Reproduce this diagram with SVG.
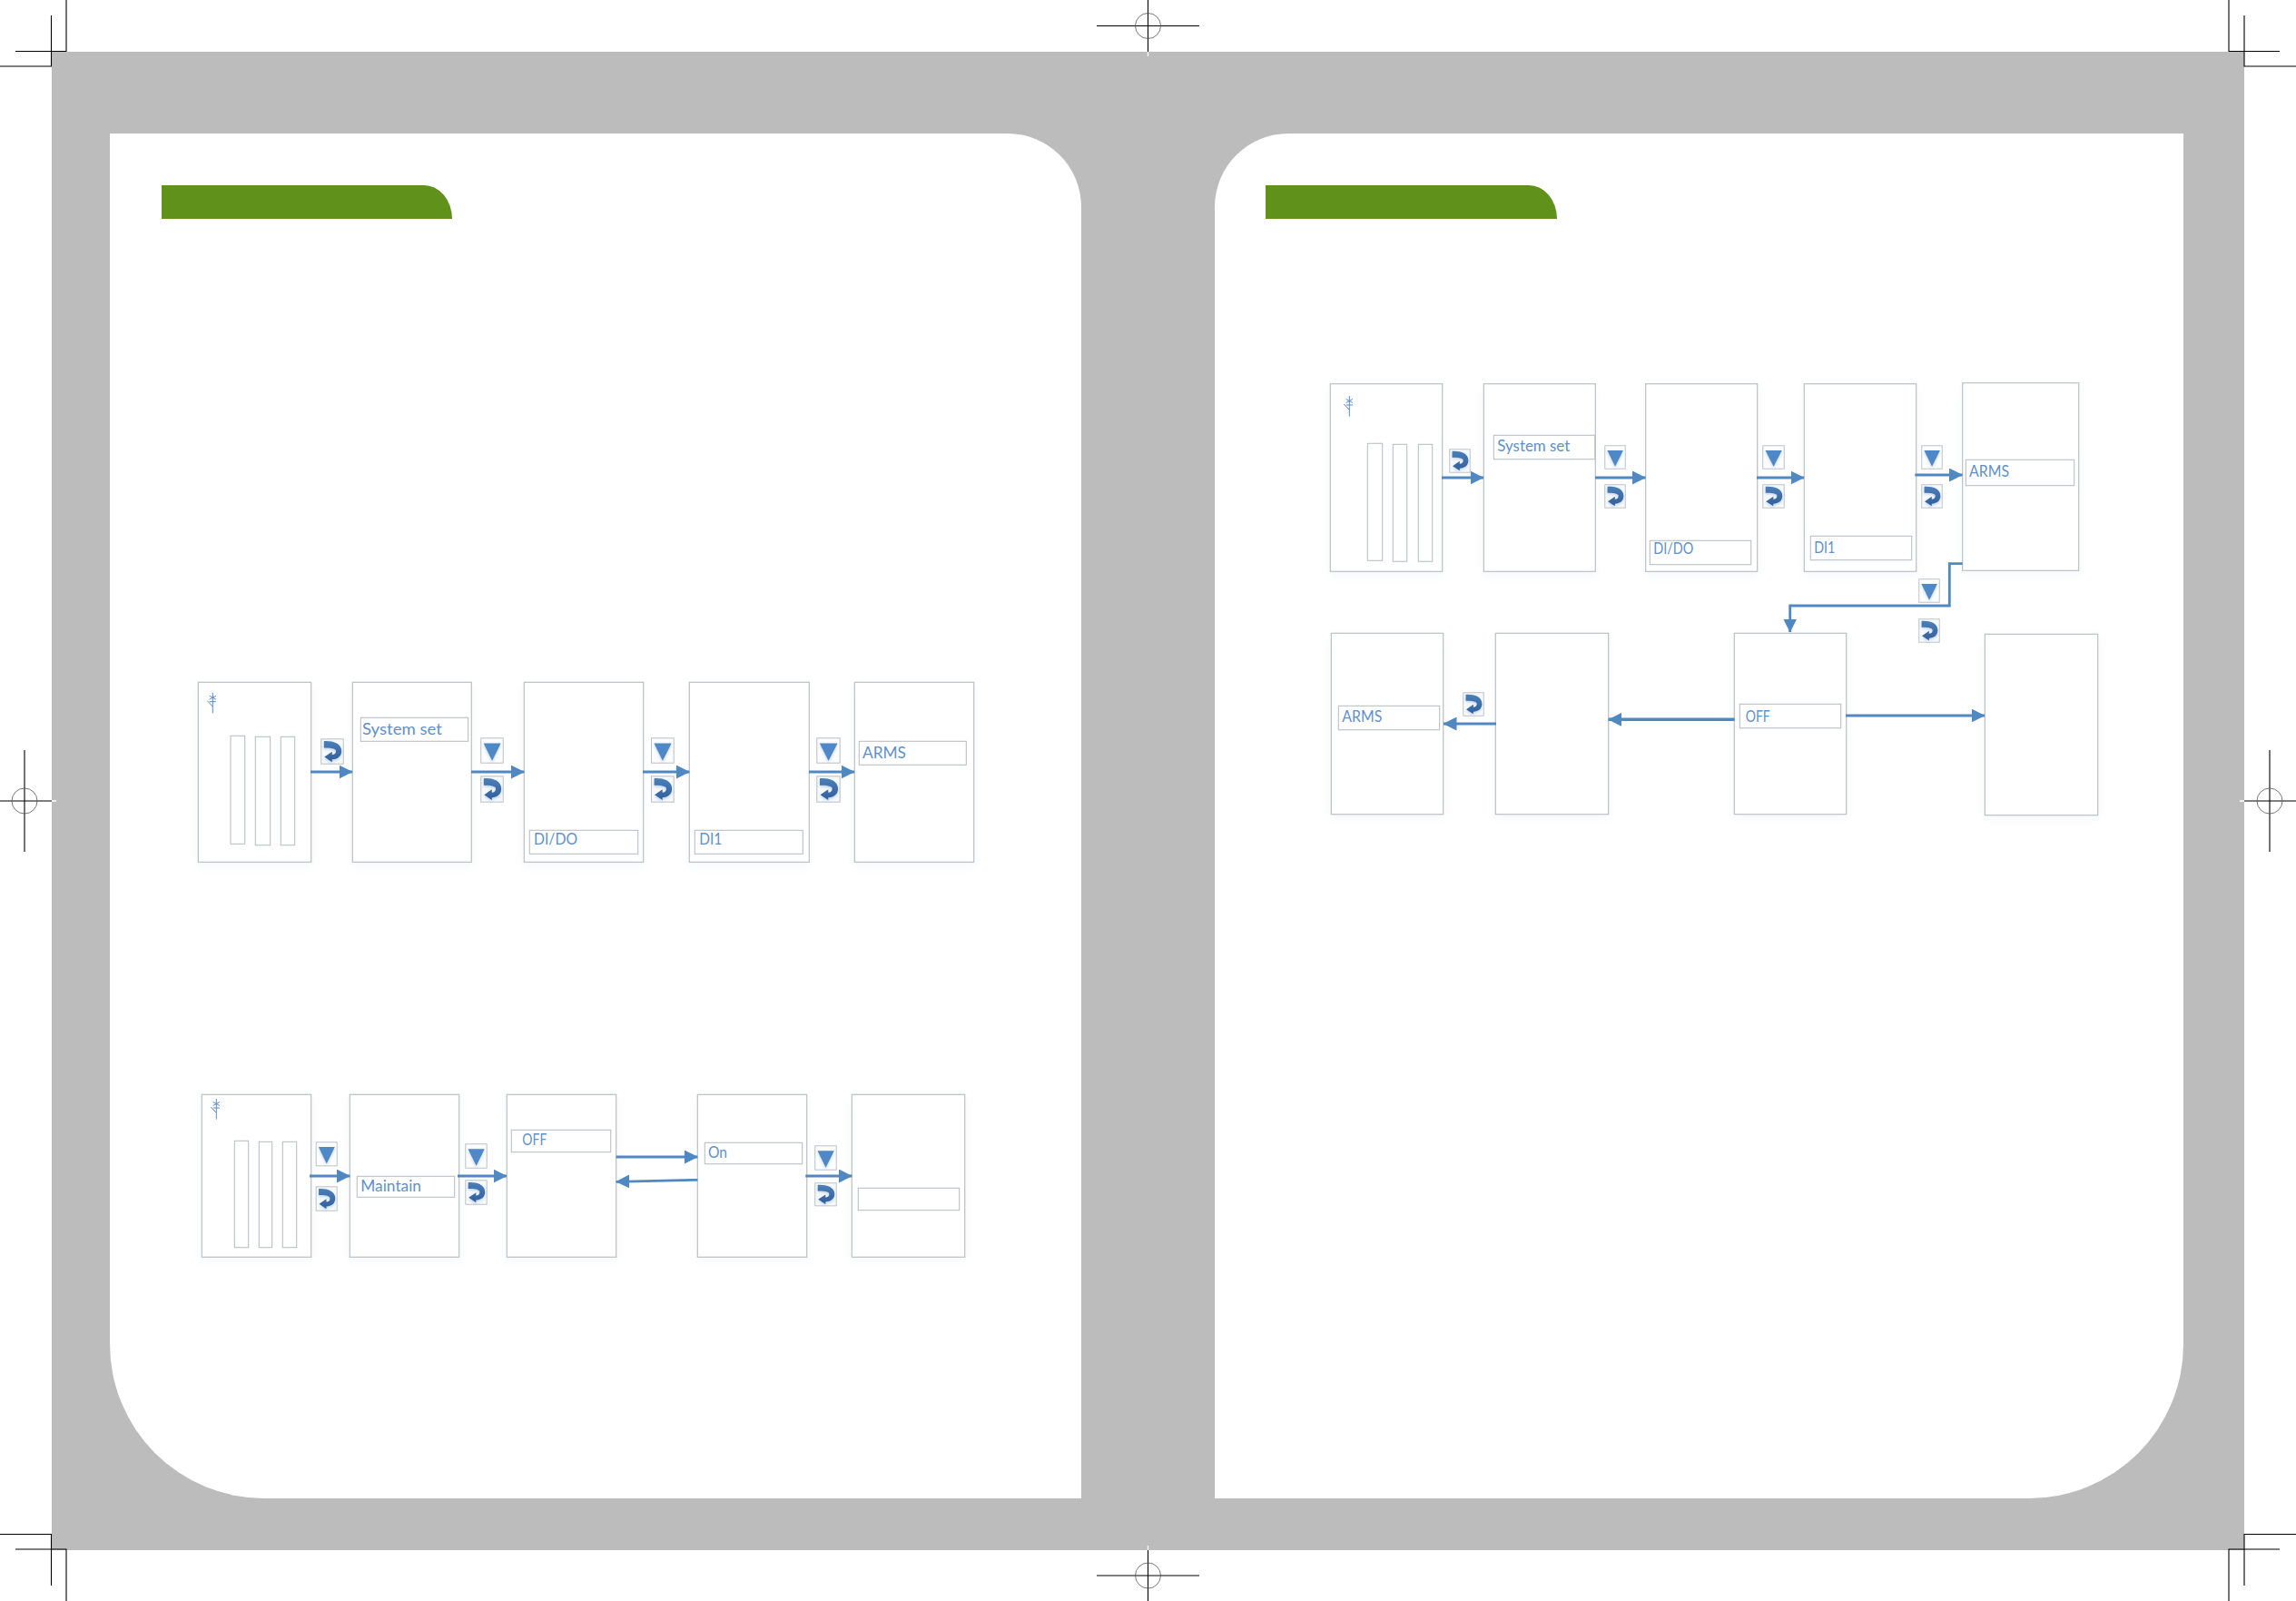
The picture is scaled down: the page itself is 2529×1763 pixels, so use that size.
<svg xmlns="http://www.w3.org/2000/svg" xmlns:xlink="http://www.w3.org/1999/xlink" width="2529" height="1763" viewBox="0 0 2529 1763">
<style>
.box{fill:#fff;stroke:#bcc0c4;stroke-width:1.2;filter:url(#soft)}
.field{fill:#fff;stroke:#bcc0c4;stroke-width:1.1}
.slot{fill:#fff;stroke:#bcc0c4;stroke-width:1.1}
.crop{stroke:#000;stroke-width:1.1;fill:none}
.cropw{stroke:#fff;stroke-width:1.3;fill:none}
.conn{stroke:#5088c2;stroke-width:2.8;fill:none;marker-end:url(#head)}
.sw{stroke:#5a8ac6;stroke-width:1;fill:none}
text{font-family:"Lato","Liberation Sans",sans-serif;fill:#5f91c9;font-weight:400}
.t20{font-size:18px}
.t18{font-size:16.6px}
</style>
<defs>
<filter id="soft" x="-10%" y="-10%" width="120%" height="120%"><feDropShadow dx="0" dy="4" stdDeviation="5" flood-color="#b4c2d2" flood-opacity="0.12"/></filter>
<filter id="glow" x="-30%" y="-30%" width="160%" height="170%"><feDropShadow dx="0" dy="1.5" stdDeviation="1.5" flood-color="#5b8fcb" flood-opacity="0.4"/></filter>
<linearGradient id="ret" x1="0" y1="0" x2="0" y2="1"><stop offset="0" stop-color="#4a7fb9"/><stop offset="1" stop-color="#325f9b"/></linearGradient>
<marker id="head" markerUnits="userSpaceOnUse" viewBox="0 0 15 15" markerWidth="15" markerHeight="15" refX="14.5" refY="7.5" orient="auto"><path d="M0 0L15 7.5L0 15Z" fill="#5088c2"/></marker>
<symbol id="down" viewBox="0 0 25 28" preserveAspectRatio="none" overflow="visible">
<rect x="0.5" y="0.5" width="24" height="27" fill="#fcfdfe" stroke="#bcc0c4" stroke-width="1"/>
<path d="M3.3 6H22L12.6 25Z" fill="#5088c6" filter="url(#glow)"/>
</symbol>
<symbol id="ret-icon" viewBox="0 0 25 28" preserveAspectRatio="none" overflow="visible">
<rect x="0.5" y="0.5" width="24" height="27" fill="#f7fafd" stroke="#bcc0c4" stroke-width="1"/>
<path d="M3.5 2.7C13 2.2 22.5 5 22.5 13.5C22.5 19.5 18 22.5 12.3 22.7V25.5L4 20L12.3 14.3V17.5C15 17.5 16.5 16 16.5 13.5C16.5 10.5 10 10 3.5 10Z" fill="url(#ret)" filter="url(#glow)"/>
</symbol>
<g id="switch"><path class="sw" d="M0 0V22.6M-3.6 3.5L3.6 7.5M3.6 3.5L-3.6 7.5M-3.6 10H3.6M-6 9L0 15.3"/></g>
</defs>

<g id="page">
<rect x="57" y="57" width="2415" height="1650" fill="#bcbcbc"/>
<path id="panel-left" d="M121 147H1110A81 81 0 0 1 1191 228V1650H291A170 170 0 0 1 121 1480Z" fill="#fff"/>
<path id="panel-right" d="M1419 147H2405V1480A170 170 0 0 1 2235 1650H1338V228A81 81 0 0 1 1419 147Z" fill="#fff"/>
<path id="banner-left" d="M178 204H467A31 37 0 0 1 498 241H178Z" fill="#5f911b"/>
<path id="banner-right" d="M1394 204H1684A31 37 0 0 1 1715 241H1394Z" fill="#5f911b"/>
</g>

<g id="crop-marks">
<path class="crop" d="M73 0V56.5H17M56.5 17V73H0M0 1689.5H56.5V1746M17 1706H73V1763M2455 0V56.5H2511M2472 17V73H2529M2455 1763V1706H2511M2472 1746V1689.5H2529"/>
<path class="crop" d="M1208 28.5H1321M1264.5 0V57M1208 1735H1321M1264.5 1763V1707M0 882H57M27 826V938M2472 882H2529M2500 826V938"/>
<path class="cropw" d="M1264.5 57V62M1264.5 1707V1702M57 882H62M2472 882H2467"/>
<circle class="crop" cx="1264.5" cy="28.5" r="14" style="stroke:#555;stroke-width:.8"/>
<circle class="crop" cx="1264.5" cy="1735" r="14" style="stroke:#555;stroke-width:.8"/>
<circle class="crop" cx="27" cy="882" r="14" style="stroke:#555;stroke-width:.8"/>
<circle class="crop" cx="2500" cy="882" r="14" style="stroke:#555;stroke-width:.8"/>
</g>

<g id="d1">
<g id="d1-n1"><rect class="box" x="218.3" y="751.3" width="124.4" height="198"/><use href="#switch" x="234.3" y="762.7"/><rect class="slot" x="254" y="810.3" width="15.7" height="119"/><rect class="slot" x="281.3" y="811.3" width="16.4" height="119.4"/><rect class="slot" x="309.3" y="811.3" width="15.4" height="119.4"/></g>
<g id="d1-n2"><rect class="box" x="388.3" y="751.3" width="131" height="198"/><rect class="field" x="397.3" y="790.3" width="118.4" height="26"/><text class="t20" x="399" y="808.7" textLength="88" lengthAdjust="spacingAndGlyphs">System set</text></g>
<g id="d1-n3"><rect class="box" x="577.3" y="751.3" width="131.4" height="198"/><rect class="field" x="583.3" y="914.3" width="119.4" height="26"/><text class="t20" x="588" y="930" textLength="48" lengthAdjust="spacingAndGlyphs">DI/DO</text></g>
<g id="d1-n4"><rect class="box" x="759.3" y="751.3" width="132" height="198"/><rect class="field" x="765.3" y="914.3" width="119" height="26"/><text class="t20" x="770.3" y="930" textLength="25" lengthAdjust="spacingAndGlyphs">DI1</text></g>
<g id="d1-n5"><rect class="box" x="941.3" y="751.3" width="131.4" height="198"/><rect class="field" x="946.3" y="816.3" width="118" height="26"/><text class="t20" x="950" y="835" textLength="48" lengthAdjust="spacingAndGlyphs">ARMS</text></g>
</g>

<g id="d2">
<g id="d2-n1"><rect class="box" x="222.3" y="1205.3" width="120.4" height="179"/><use href="#switch" x="238.3" y="1210"/><rect class="slot" x="258.3" y="1256.3" width="15.4" height="117.4"/><rect class="slot" x="285.3" y="1257.3" width="14.4" height="116.4"/><rect class="slot" x="311.3" y="1257.3" width="15.4" height="116.4"/></g>
<g id="d2-n2"><rect class="box" x="385.3" y="1205.3" width="120.4" height="179"/><rect class="field" x="393.3" y="1295.3" width="107.4" height="23"/><text class="t20" x="397.3" y="1312.3" textLength="66.7" lengthAdjust="spacingAndGlyphs">Maintain</text></g>
<g id="d2-n3"><rect class="box" x="558.3" y="1205.3" width="120.4" height="179"/><rect class="field" x="563.3" y="1244.3" width="109.4" height="24.4"/><text class="t20" x="575.3" y="1261" textLength="27" lengthAdjust="spacingAndGlyphs">OFF</text></g>
<g id="d2-n4"><rect class="box" x="768.3" y="1205.3" width="120.4" height="179"/><rect class="field" x="776.3" y="1258.3" width="107.4" height="23.4"/><text class="t20" x="780" y="1275.3" textLength="21" lengthAdjust="spacingAndGlyphs">On</text></g>
<g id="d2-n5"><rect class="box" x="938.3" y="1205.3" width="124.4" height="179"/><rect class="field" x="945.3" y="1308.3" width="111.4" height="24.4"/></g>
</g>

<g id="d3">
<g id="d3-n1"><rect class="box" x="1465.3" y="422.7" width="123.4" height="206.6"/><use href="#switch" x="1486.3" y="436"/><rect class="slot" x="1506.3" y="488.3" width="16.4" height="129"/><rect class="slot" x="1534.3" y="489.3" width="15.4" height="129"/><rect class="slot" x="1562.3" y="489.3" width="15.4" height="129"/></g>
<g id="d3-n2"><rect class="box" x="1634.3" y="422.7" width="123" height="206.6"/><rect class="field" x="1645.3" y="479.3" width="111.4" height="26.4"/><text class="t18" x="1649.3" y="497.3" textLength="80" lengthAdjust="spacingAndGlyphs">System set</text></g>
<g id="d3-n3"><rect class="box" x="1812.7" y="422.7" width="123" height="206.6"/><rect class="field" x="1817.3" y="595.3" width="111.4" height="26.4"/><text class="t18" x="1821.3" y="610" textLength="44" lengthAdjust="spacingAndGlyphs">DI/DO</text></g>
<g id="d3-n4"><rect class="box" x="1987.3" y="422.7" width="123.4" height="206.6"/><rect class="field" x="1994.3" y="590.3" width="111.4" height="26.4"/><text class="t18" x="1998.3" y="609" textLength="23" lengthAdjust="spacingAndGlyphs">DI1</text></g>
<g id="d3-n5"><rect class="box" x="2161.7" y="421.7" width="128" height="206.6"/><rect class="field" x="2165.3" y="506.3" width="119.4" height="28.4"/><text class="t18" x="2169" y="525" textLength="44" lengthAdjust="spacingAndGlyphs">ARMS</text></g>
<g id="d3-n6"><rect class="box" x="1466.3" y="697.3" width="123.4" height="199.4"/><rect class="field" x="1474.3" y="777.3" width="111.4" height="26.4"/><text class="t18" x="1478.3" y="795" textLength="44" lengthAdjust="spacingAndGlyphs">ARMS</text></g>
<g id="d3-n7"><rect class="box" x="1647.3" y="697.3" width="124.4" height="199.4"/></g>
<g id="d3-n8"><rect class="box" x="1910.3" y="697.3" width="123.4" height="199.4"/><rect class="field" x="1916.3" y="775.3" width="111.4" height="26.4"/><text class="t18" x="1922.7" y="795" textLength="27" lengthAdjust="spacingAndGlyphs">OFF</text></g>
<g id="d3-n9"><rect class="box" x="2186.3" y="698.3" width="124.4" height="199.4"/></g>
</g>

<g id="connectors">
<path class="conn" d="M342 850H388"/>
<path class="conn" d="M519 850H577.3"/>
<path class="conn" d="M708 850H759.3"/>
<path class="conn" d="M891 850H941"/>
<path class="conn" d="M341 1295H385.3"/>
<path class="conn" d="M504 1295H558"/>
<path class="conn" d="M678.7 1274H768.3"/>
<path class="conn" d="M768.3 1299.3L678.7 1301.3"/>
<path class="conn" d="M887.3 1295H938.3"/>
<path class="conn" d="M1588 526H1634"/>
<path class="conn" d="M1757 526H1812.5"/>
<path class="conn" d="M1935 526H1987"/>
<path class="conn" d="M2109.3 523H2161.5"/>
<path class="conn" d="M2161.7 620.7H2147.3V667H1971.7V696"/>
<path class="conn" d="M1648 797H1590"/>
<path class="conn" d="M1910.7 792.3H1771.7" style="stroke-width:3.6"/>
<path class="conn" d="M2033 788H2186"/>
</g>

<g id="keys">
<use href="#ret-icon" x="353.3" y="813.3" width="25.4" height="28.4"/>
<use href="#down" x="529.3" y="812.3" width="25.4" height="28.4"/>
<use href="#ret-icon" x="529.3" y="854.3" width="25.4" height="29.4"/>
<use href="#down" x="717" y="812.3" width="25.7" height="28.4"/>
<use href="#ret-icon" x="717" y="854.3" width="25.7" height="29.4"/>
<use href="#down" x="899.3" y="812.3" width="26.4" height="28.4"/>
<use href="#ret-icon" x="899.3" y="854.3" width="26.4" height="29.4"/>

<use href="#down" x="347.7" y="1257.3" width="24" height="27"/>
<use href="#ret-icon" x="347.7" y="1306.3" width="24" height="27.4"/>
<use href="#down" x="512.3" y="1259.3" width="24.4" height="27.4"/>
<use href="#ret-icon" x="512.3" y="1299.3" width="24.4" height="27.4"/>
<use href="#down" x="897.3" y="1261.3" width="24.4" height="27.4"/>
<use href="#ret-icon" x="897.3" y="1302.3" width="24.4" height="26"/>

<use href="#ret-icon" x="1596.3" y="494.3" width="23.4" height="26.4"/>
<use href="#down" x="1767.3" y="490.3" width="23.4" height="26.4"/>
<use href="#ret-icon" x="1767.3" y="533.3" width="23.4" height="26.4"/>
<use href="#down" x="1941.3" y="490.3" width="24.4" height="26.4"/>
<use href="#ret-icon" x="1941.3" y="533.3" width="24.4" height="26.4"/>
<use href="#down" x="2116.3" y="490.3" width="23.4" height="26.4"/>
<use href="#ret-icon" x="2116.3" y="533.3" width="23.4" height="26.4"/>
<use href="#down" x="2113.3" y="637.3" width="23.4" height="26.4"/>
<use href="#ret-icon" x="2113.3" y="681.3" width="23.4" height="26.4"/>
<use href="#ret-icon" x="1611.3" y="762.3" width="23.4" height="26.4"/>
</g>
</svg>
